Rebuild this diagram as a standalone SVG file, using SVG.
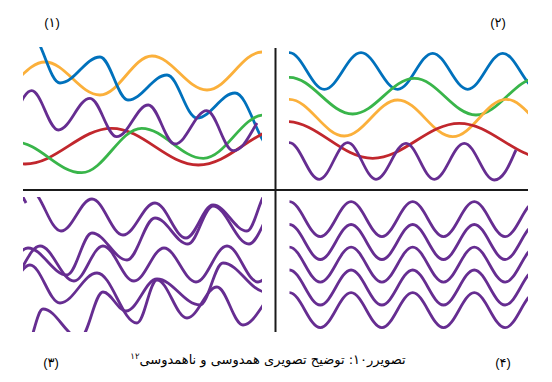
<svg xmlns="http://www.w3.org/2000/svg" xmlns:xlink="http://www.w3.org/1999/xlink" width="552" height="382" viewBox="0 0 552 382">
  <style>
    .w { fill: none; stroke-width: 2.8; stroke-linecap: butt; stroke-linejoin: round; }
    .blue { stroke: #0071BC; }
    .orange { stroke: #FBB03B; }
    .green { stroke: #39B54A; }
    .red { stroke: #C1272D; }
    .purple { stroke: #662D91; }
    .axis { stroke: #1a1a1a; stroke-width: 2; fill: none; }
    .lbl { font-family: "Liberation Sans", "DejaVu Sans", sans-serif; font-size: 13px; fill: #000; }
    .cap { font-family: "DejaVu Sans", "Noto Sans", sans-serif; font-size: 13px; fill: #000; }
  </style>
  <defs>
    <clipPath id="c1"><rect x="23" y="47" width="239" height="143"/></clipPath>
    <clipPath id="c2"><rect x="289" y="47" width="239" height="143"/></clipPath>
    <clipPath id="c3"><rect x="23" y="197" width="239" height="135"/></clipPath>
    <clipPath id="c4"><rect x="289" y="192" width="239" height="140"/></clipPath>
    <path id="cw" d="M289.5,0 C300.7,0 309.1,35 320.3,35 C331.5,35 339.9,0 351.1,0 C362.3,0 370.7,35 381.9,35 C393.1,35 401.5,0 412.7,0 C423.9,0 432.3,35 443.5,35 C454.7,35 463.1,0 474.3,0 C485.5,0 493.9,35 505.1,35 C516.3,35 524.7,0 535.9,0"/>
  </defs>

  <g id="panel1" clip-path="url(#c1)">
    <path class="w orange" d="M-8,95 C11.3,95 25.7,62 45,62 C65,62 80,95 100,95 C118.9,95 133.1,56 152,56 C172,56 187,90 207,90 C227,90 242,52 262,52 C281.3,52 295.7,88 315,88"/>
    <path class="w blue" d="M31,35 C41.6,35 49.4,83 60,83 C74.6,83 85.4,57 100,57 C110.2,57 117.8,100 128,100 C142.2,100 152.8,75 167,75 C177.9,75 186.1,118 197,118 C210.8,118 221.2,93 235,93 C248.5,93 258.5,148 272,148"/>
    <path class="w red" d="M-61.7,128 C-30.1,128 -6.6,164 25,164 C56.6,164 80.1,128.3 111.7,128.3 C143.2,128.3 166.8,165 198.3,165 C229.9,165 253.4,128 285,128"/>
    <path class="w green" d="M15,142 C39.3,142 57.4,172.7 81.7,172.7 C103.5,172.7 119.9,128.3 141.7,128.3 C164.1,128.3 180.9,158.3 203.3,158.3 C225.4,158.3 241.9,115 264,115 C284.4,115 299.6,150 320,150"/>
    <path class="w purple" d="M3,128 C13.4,128 21.3,90.7 31.7,90.7 C41.4,90.7 48.6,130 58.3,130 C69.8,130 78.5,98.3 90,98.3 C99.7,98.3 107,136.7 116.7,136.7 C128.2,136.7 136.8,105 148.3,105 C158,105 165.3,144 175,144 C186.5,144 195.2,110.7 206.7,110.7 C216.4,110.7 223.6,150.7 233.3,150.7 C243,150.7 250,134 257,123"/>
  </g>

  <g id="panel2" clip-path="url(#c2)">
    <path class="w blue" d="M253,89.3 C266.2,89.3 276.1,52.7 289.3,52.7 C302,52.7 311.6,89.3 324.3,89.3 C337.7,89.3 347.6,52.7 361,52.7 C374.4,52.7 384.3,89.3 397.7,89.3 C410.4,89.3 420,53.3 432.7,53.3 C445.4,53.3 455,89.3 467.7,89.3 C480.4,89.3 490,53.3 502.7,53.3 C515.6,53.3 525.1,89.3 538,89.3"/>
    <path class="w green" d="M228,114 C250.3,114 267,77.3 289.3,77.3 C312.4,77.3 329.6,114 352.7,114 C375.1,114 391.9,78.3 414.3,78.3 C436.8,78.3 453.5,115 476,115 C498.4,115 515.1,78 537.5,78"/>
    <path class="w orange" d="M235,136 C254.8,136 269.5,99.3 289.3,99.3 C309.3,99.3 324.3,136 344.3,136 C363.7,136 378.3,100 397.7,100 C417.7,100 432.7,136.7 452.7,136.7 C472.1,136.7 486.6,99.3 506,99.3 C525.7,99.3 540.3,136 560,136"/>
    <path class="w red" d="M199,158 C230.6,158 254.4,121.5 286,121.5 C317.6,121.5 341.1,158.3 372.7,158.3 C404.2,158.3 427.8,123.3 459.3,123.3 C490.9,123.3 514.4,158 546,158"/>
    <path class="w purple" d="M260,180 C270.7,180 278.6,142.7 289.3,142.7 C300.2,142.7 308.4,179.3 319.3,179.3 C329.6,179.3 337.4,142.7 347.7,142.7 C358,142.7 365.7,179.3 376,179.3 C386.9,179.3 395.1,143.3 406,143.3 C416.3,143.3 424,179.3 434.3,179.3 C445.2,179.3 453.4,143.3 464.3,143.3 C475.2,143.3 483.4,180 494.3,180 C504.5,180 511,160 516,150"/>
  </g>

  <g id="panel3" clip-path="url(#c3)">
    <path class="w purple" d="M21,193 L26,203"/>
    <path class="w purple" d="M30,190 C41.3,190 49.7,231 61,231 C72.3,231 80.7,199 92,199 C103.3,199 111.7,235 123,235 C134.6,235 143.4,203 155,203 C166.3,203 174.7,238 186,238 C195.8,238 203.2,205 213,205 C225.4,205 234.6,231 247,231 C254.6,231 260.4,192 268,192"/>
    <path class="w purple" d="M-4,282 C7.6,282 16.4,248 28,248 C42.2,248 52.8,275 67,275 C76.1,275 82.9,233 92,233 C104.7,233 114.3,260 127,260 C137.2,260 144.8,218 155,218 C167,218 176,244 188,244 C197.1,244 203.9,206 213,206 C226.1,206 235.9,244 249,244 C258.5,244 265.5,210 275,210"/>
    <path class="w purple" d="M9,281 C20.3,281 28.7,246 40,246 C52.4,246 61.6,281 74,281 C84.6,281 92.4,246 103,246 C114.3,246 122.7,281 134,281 C144.9,281 153.1,248 164,248 C175.6,248 184.4,282 196,282 C207.3,282 215.7,246 227,246 C238.3,246 246.7,282 258,282 C269.6,282 278.4,246 290,246"/>
    <path class="w purple" d="M0,300 C10.9,300 19.1,265 30,265 C40.9,265 49.1,303 60,303 C73.5,303 83.5,273 97,273 C111.6,273 122.4,323 137,323 C144.3,323 149.7,280 157,280 C167.9,280 176.1,318 187,318 C197.9,318 206.1,287 217,287 C226.5,287 233.5,325 243,325 C256.5,325 266.5,290 280,290"/>
    <path class="w purple" d="M25,350 C31.6,350 36.4,309 43,309 C56.5,309 66.5,338 80,338 C88.4,338 94.6,292 103,292 C111.4,292 117.6,311 126,311 C137.3,311 145.7,279 157,279 C172.7,279 184.3,305 200,305 C208.4,305 214.6,263 223,263 C238.7,263 250.3,292 266,292"/>
  </g>

  <g id="panel4" clip-path="url(#c4)">
    <use xlink:href="#cw" class="w purple" transform="translate(0,201.7)"/>
    <use xlink:href="#cw" class="w purple" transform="translate(0,224.5)"/>
    <use xlink:href="#cw" class="w purple" transform="translate(0,247.2)"/>
    <use xlink:href="#cw" class="w purple" transform="translate(0,270)"/>
    <use xlink:href="#cw" class="w purple" transform="translate(0,292.7)"/>
  </g>

  <g id="axes">
    <line class="axis" x1="23" y1="190" x2="528" y2="190"/>
    <line class="axis" x1="275.5" y1="48" x2="275.5" y2="332"/>
  </g>

  <g id="labels">
    <text class="lbl" x="52" y="27" text-anchor="middle">(۱)</text>
    <text class="lbl" x="498" y="27" text-anchor="middle">(۲)</text>
    <text class="lbl" x="51" y="366.5" text-anchor="middle">(۳)</text>
    <text class="lbl" x="503" y="366.5" text-anchor="middle">(۴)</text>
  </g>

  <g id="caption">
    <text class="cap" x="268" y="364" text-anchor="middle" direction="rtl">تصویرر۱۰: توضیح تصویری همدوسی و ناهمدوسی<tspan font-size="8.5" baseline-shift="super">۱۲</tspan></text>
  </g>
</svg>
